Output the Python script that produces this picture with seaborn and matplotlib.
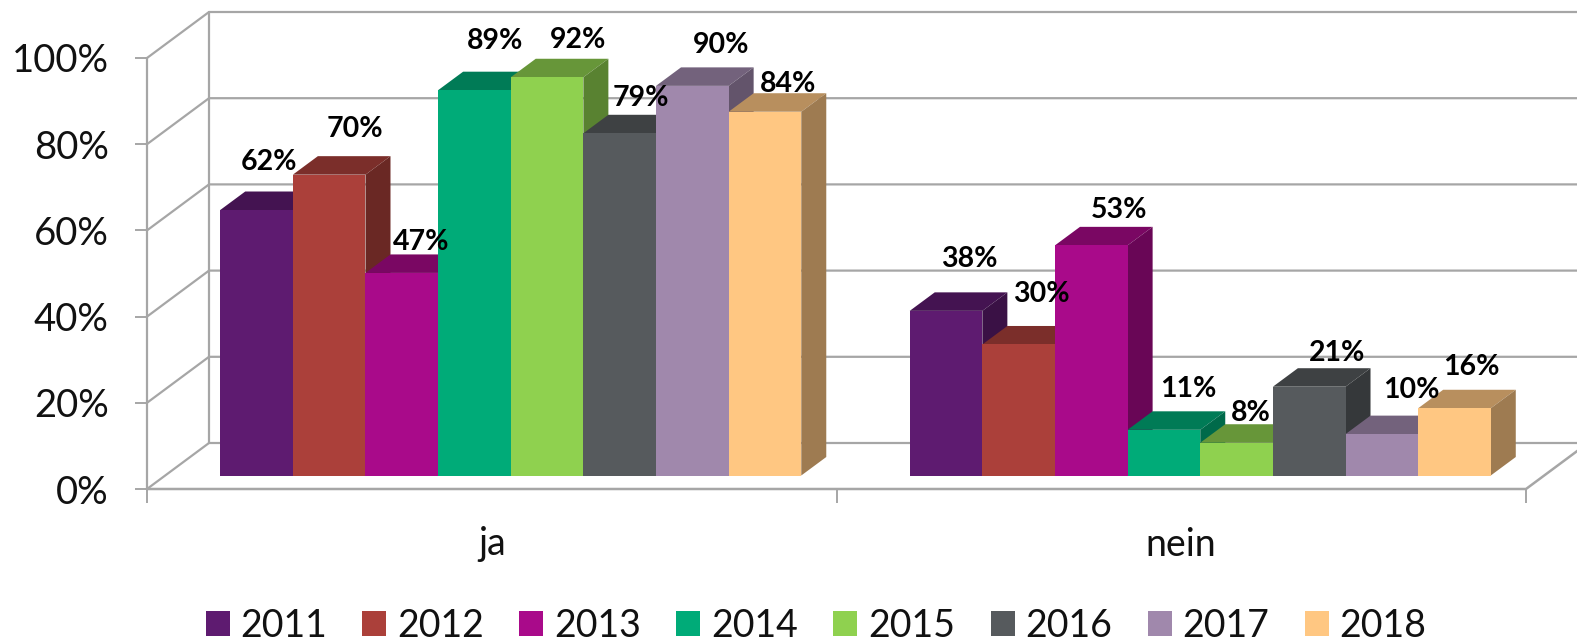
import pandas as pd
import matplotlib.pyplot as plt
import seaborn as sns
from matplotlib.patches import Polygon
from matplotlib.colors import to_rgb

answers=["ja","nein"]
years=["2011","2012","2013","2014","2015","2016","2017","2018"]
ja_vals=[61.6,69.8,47.0,89.4,92.4,79.4,90.4,84.4]
nein_vals=[38.2,30.4,53.4,10.6,7.6,20.6,9.6,15.6]
colors=["#5E1B70","#AB403A","#A90A8A","#00AB78","#8FD14F","#565A5D","#A088AC","#FFC782"]
ticks=[0,20,40,60,80,100]
#label offset from top centre of the bar front, in px
ja_off=[(12,-48),(26,-46),(19,-31),(21,-49),(31,-37),(21,-35),(29,-41),(23,-28)]
nein_off=[(23,-52),(23,-50),(28,-35),(24,-41),(14,-30),(28,-34),(30,-44),(17,-41)]

W,H=1577,643
ax_l,ax_r,ax_t,ax_b=147,1526,58,489
grey="#A6A6A6"

df=pd.DataFrame({"answer":[a for a in answers for y in years],
    "year":years*2,
    "val":ja_vals+nein_vals})

sns.set_theme(style="white")
plt.rcParams["font.family"]=["Lato","DejaVu Sans"]
fg=plt.figure(figsize=(W/100,H/100),dpi=100)
ax=fg.add_axes([ax_l/W,1-ax_b/H,(ax_r-ax_l)/W,(ax_b-ax_t)/H])
sns.barplot(data=df,x="answer",y="val",hue="year",palette=colors,
    width=.8427,gap=0,saturation=1,linewidth=0,ax=ax)
ax.set_xlim(-.5,1.5)
ax.set_ylim(0,100)

#px to data units
ux=2/(ax_r-ax_l)
uy=100/(ax_b-ax_t)

#side wall, back wall and floor
wx,wy=62*ux,46*uy
for v in ticks:
    ax.plot([-.5,-.5+wx,1.5+wx],[v,v+wy,v+wy],color=grey,lw=1.6,clip_on=False,zorder=1)
ax.plot([-.5,-.5],[0,100],color=grey,lw=1.6,clip_on=False,zorder=1)
ax.plot([-.5+wx,-.5+wx],[wy,100+wy],color=grey,lw=1.6,clip_on=False,zorder=1)
ax.plot([-.5,1.5,1.5+wx],[0,0,wy],color=grey,lw=1.8,clip_on=False,zorder=2)

#bars get moved back and get their top and side faces
ox,oy=19*ux,13.5*uy
dx,dy=25*ux,18.5*uy
offs=[ja_off,nein_off]
for i,cont in enumerate(ax.containers):
    col=to_rgb(colors[i])
    for j,b in enumerate(cont):
        v=b.get_height()
        b.set_x(b.get_x()+ox)
        b.set_y(oy)
        b.set_zorder(5+i+.2)
        x0=b.get_x()
        x1=x0+b.get_width()
        y1=oy+v
        top=Polygon([(x0,y1),(x1,y1),(x1+dx,y1+dy),(x0+dx,y1+dy)],closed=True,lw=0,
            fc=[c*.72 for c in col],clip_on=False,zorder=5+i)
        side=Polygon([(x1,oy),(x1+dx,oy+dy),(x1+dx,y1+dy),(x1,y1)],closed=True,lw=0,
            fc=[c*.62 for c in col],clip_on=False,zorder=5+i)
        ax.add_patch(top)
        ax.add_patch(side)
        o=offs[j][i]
        ax.annotate(f"{round(v)}%",xy=((x0+x1)/2,y1),xytext=(o[0]*.72,-o[1]*.72),
            textcoords="offset points",ha="center",va="center",
            fontsize=20.5,fontweight="bold",color="black",zorder=30,annotation_clip=False)

sns.despine(ax=ax,left=True,bottom=True,top=True,right=True)
ax.patch.set_alpha(0)
ax.set_xlabel("")
ax.set_ylabel("")
ax.set_yticks(ticks)
ax.set_yticklabels([f"{v}%" for v in ticks])
ax.set_xticks([0,1])
ax.set_xticklabels(answers)
ax.set_xticks([-.5,.5,1.5],minor=True)
ax.tick_params(axis="y",left=True,length=8.6,width=1.4,color=grey,labelsize=27.5,labelcolor="#111111",pad=19)
ax.tick_params(axis="x",which="major",bottom=False,length=0,labelsize=27,labelcolor="#111111",pad=27)
ax.tick_params(axis="x",which="minor",bottom=True,length=10,width=1.4,color=grey)

h,l=ax.get_legend_handles_labels()
ax.legend(h,l,ncol=8,frameon=False,fontsize=27,handlelength=.64,handleheight=.64,
    handletextpad=.29,columnspacing=.94,labelcolor="#111111",
    loc="center",bbox_to_anchor=((816-ax_l)/(ax_r-ax_l),(ax_b-626)/(ax_b-ax_t)),borderaxespad=0,borderpad=0)

fg.savefig("out.png",dpi=100)
